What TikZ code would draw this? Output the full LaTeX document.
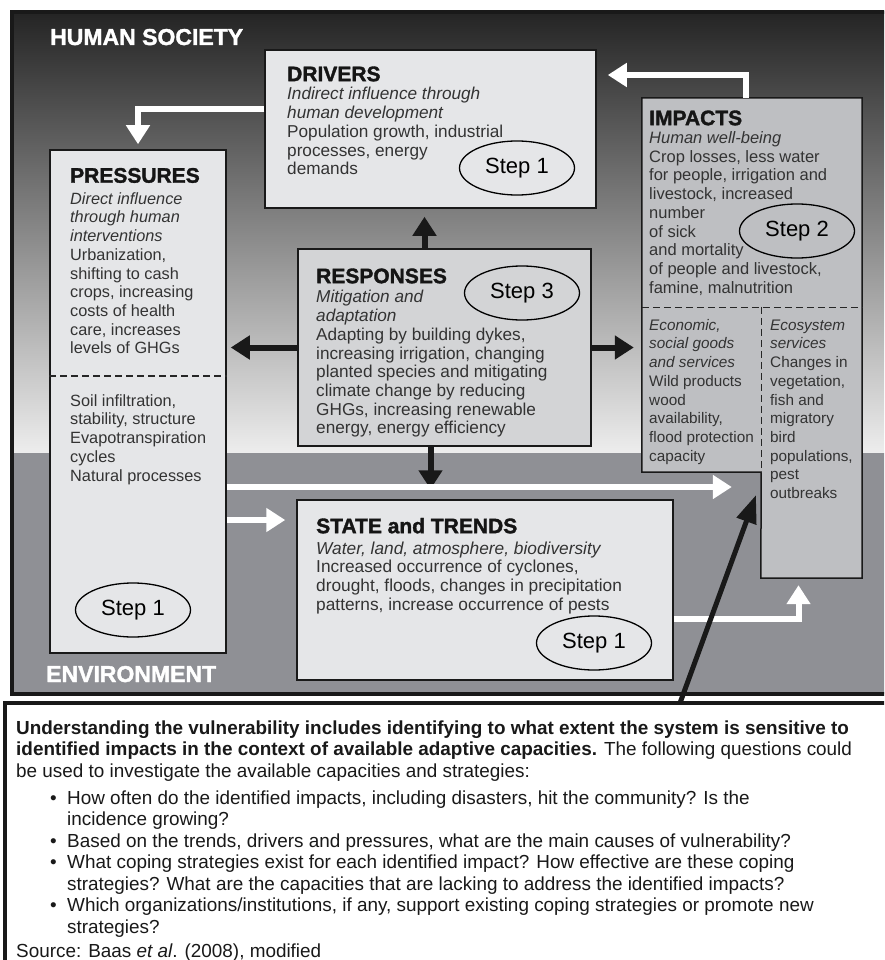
\documentclass[tikz,border=0pt]{standalone}
\usepackage{fontspec}
\setmainfont{Liberation Sans}
\newfontfamily\heavyfont{Liberation Sans}[BoldFeatures={FakeBold=1.6}]
\usetikzlibrary{arrows.meta,positioning,calc,shapes.geometric}
\definecolor{boxlight}{HTML}{E5E6E8}
\definecolor{boxmid}{HTML}{D3D4D6}
\definecolor{boxdark}{HTML}{BEBFC2}
\definecolor{envgray}{HTML}{8F9095}
\definecolor{skytop}{HTML}{242424}
\definecolor{skybottom}{HTML}{EDEDED}
\definecolor{bodytext}{HTML}{333333}
\definecolor{titletext}{HTML}{151515}
\newcommand{\boxtitle}[1]{{\fontsize{21}{18.7}\selectfont\heavyfont\bfseries\color{titletext}#1}}
\newcommand{\notebullet}{\makebox[51pt][r]{\textbullet\hspace{10.5pt}}}
\newcommand{\noteindent}{\hspace*{51pt}}

\begin{document}
\begin{tikzpicture}[x=1pt,y=-1pt,
  box/.style={draw=black!90,line width=1.5pt,inner sep=0pt},
  txt/.style={anchor=north west,align=left,inner sep=0pt,text=bodytext,font=\fontsize{17.2}{18.7}\selectfont},
  subtxt/.style={txt,font=\fontsize{15.3}{18.7}\selectfont},
  stepnode/.style={draw=black,line width=1.3pt,ellipse,minimum width=115pt,minimum height=54pt,inner sep=0pt,font=\fontsize{22}{22}\selectfont},
  regionlabel/.style={anchor=base west,inner sep=0pt,text=white,font=\fontsize{23}{23}\selectfont\heavyfont\bfseries},
  warrow/.style={draw=white,line width=6pt,-{Triangle[length=19pt,width=23pt]}},
  barrow/.style={draw=black!90,line width=6pt,-{Triangle[length=19pt,width=23pt]}},
  divider/.style={draw=black!85,line width=1.3pt,dash pattern=on 7pt off 4pt}]

\useasboundingbox (0,0) rectangle (884,960);
\clip (0,0) rectangle (884,960);

\shade[top color=skytop,bottom color=skybottom] (12,12) rectangle (910,453);
\fill[envgray] (12,453) rectangle (910,694);
\draw[line width=4pt,black!90] (12,12) rectangle (910,694);

\node[regionlabel] (society) at (50,45) {HUMAN SOCIETY};
\node[regionlabel] (environment) at (46,682) {ENVIRONMENT};

\node[box,fill=boxlight,minimum width=331pt,minimum height=158pt] (drivers) at (430.5,129) {};
\node[box,fill=boxlight,minimum width=176pt,minimum height=503pt] (pres) at (138,401.5) {};
\node[box,fill=boxmid,minimum width=293pt,minimum height=197pt] (resp) at (444.5,347.5) {};
\node[box,fill=boxlight,minimum width=376pt,minimum height=180pt] (state) at (485,590) {};

\node[fill=boxdark,inner sep=0pt,minimum width=220pt,minimum height=209pt] (imp) at (752,202.5) {};
\node[fill=boxdark,inner sep=0pt,minimum width=119pt,minimum height=165pt] (econ) at (701.5,389.5) {};
\node[fill=boxdark,inner sep=0pt,minimum width=101pt,minimum height=271pt] (eco) at (811.5,442.5) {};
\draw[black!90,line width=1.5pt] (imp.north west) -- (imp.north east) -- (eco.south east) -- (eco.south west) -- (econ.south east) -- (econ.south west) -- cycle;
\draw[divider] (imp.south west) -- (imp.south east);
\draw[divider] (econ.north east) -- (econ.south east);
\draw[divider] ($(pres.west)+(0,-25.5)$) -- ($(pres.east)+(0,-25.5)$);

\node[txt] (drvtxt) at (287,65) {\rule{0pt}{16pt}\boxtitle{DRIVERS}\\
  \textit{Indirect influence through}\\
  \textit{human development}\\
  Population growth, industrial\\
  processes, energy\\
  demands};
\node[txt,font=\fontsize{16.3}{18.7}\selectfont] (prstxt) at (70,166.5) {\rule{0pt}{16pt}\boxtitle{PRESSURES}\\[2.8pt]
  \textit{Direct influence}\\
  \textit{through human}\\
  \textit{interventions}\\
  Urbanization,\\
  shifting to cash\\
  crops, increasing\\
  costs of health\\
  care, increases\\
  levels of GHGs};
\node[txt,font=\fontsize{16.3}{18.7}\selectfont] (envtxt) at (70,392) {\rule{0pt}{14pt}Soil infiltration,\\
  stability, structure\\
  Evapotranspiration\\
  cycles\\
  Natural processes};
\node[txt] (resptxt) at (316,267) {\rule{0pt}{16pt}\boxtitle{RESPONSES}\\[1pt]
  \textit{Mitigation and}\\
  \textit{adaptation}\\
  Adapting by building dykes,\\
  increasing irrigation, changing\\
  planted species and mitigating\\
  climate change by reducing\\
  GHGs, increasing renewable\\
  energy, energy efficiency};
\node[txt,font=\fontsize{17.3}{18.7}\selectfont] (statetxt) at (316,517) {\rule{0pt}{16pt}\boxtitle{STATE and TRENDS}\\[2.3pt]
  \textit{Water, land, atmosphere, biodiversity}\\
  Increased occurrence of cyclones,\\
  drought, floods, changes in precipitation\\
  patterns, increase occurrence of pests};
\node[txt,font=\fontsize{16.5}{18.7}\selectfont] (imptxt) at (649,109) {\rule{0pt}{16pt}\boxtitle{IMPACTS}\\[-0.4pt]
  \textit{Human well-being}\\
  Crop losses, less water\\
  for people, irrigation and\\
  livestock, increased\\
  number\\
  of sick\\
  and mortality\\
  of people and livestock,\\
  famine, malnutrition};
\node[subtxt] (econtxt) at (649,316) {\rule{0pt}{14pt}\textit{Economic,}\\
  \textit{social goods}\\
  \textit{and services}\\
  Wild products\\
  wood\\
  availability,\\
  flood protection\\
  capacity};
\node[subtxt] (ecotxt) at (770,316) {\rule{0pt}{14pt}\textit{Ecosystem}\\
  \textit{services}\\
  Changes in\\
  vegetation,\\
  fish and\\
  migratory\\
  bird\\
  populations,\\
  pest\\
  outbreaks};

\node[stepnode] (drvstep) at (517,168) {Step 1};
\node[stepnode] (respstep) at (522,293) {Step 3};
\node[stepnode] (impstep) at (797,231) {Step 2};
\node[stepnode] (prsstep) at (133,610) {Step 1};
\node[stepnode] (statestep) at (594,643) {Step 1};

\draw[warrow] ($(drivers.west)+(0,-20)$) -| ($(pres.north)+(0,-5)$);
\draw[warrow] ($(imp.north)+(-6,0)$) |- ($(drivers.east)+(11,-54)$);
\draw[barrow] ($(resp.north)+(-20,0)$) -- ($(resp.north |- drivers.south)+(-20,8)$);
\draw[barrow] (resp.west) -- ($(pres.east |- resp.west)+(4,0)$);
\draw[barrow] (resp.east) -- ($(econ.west |- resp.east)+(-8,0)$);
\draw[barrow] ($(resp.south)+(-14,0)$) -- ($(resp.south |- state.north)+(-14,-10)$);
\draw[warrow] ($(pres.east)+(0,85.5)$) -- ($(eco.west)+(-29,44.5)$);
\draw[warrow] ($(pres.east)+(0,118.5)$) -- ($(state.west)+(-11,-70)$);
\draw[warrow] ($(state.east)+(0,29)$) -| ($(eco.south)+(-13,7)$);

\node[draw=black!90,line width=4pt,fill=white,inner sep=0pt,minimum width=905pt,minimum height=287pt] (note) at (457.5,846.5) {};
\node[txt,text=black!90,font=\fontsize{18.9}{21.5}\selectfont] (notetxt) at (16,720) {\rule{0pt}{14pt}\textbf{Understanding the vulnerability includes identifying to what extent the system is sensitive to}\\
  \textbf{identified impacts in the context of available adaptive capacities.} The following questions could\\
  be used to investigate the available capacities and strategies:\\[5.5pt]
  \notebullet How often do the identified impacts, including disasters, hit the community? Is the\\
  \noteindent incidence growing?\\
  \notebullet Based on the trends, drivers and pressures, what are the main causes of vulnerability?\\
  \notebullet What coping strategies exist for each identified impact? How effective are these coping\\
  \noteindent strategies? What are the capacities that are lacking to address the identified impacts?\\
  \notebullet Which organizations/institutions, if any, support existing coping strategies or promote new\\
  \noteindent strategies?\\[2.5pt]
  Source: Baas \textit{et al}. (2008), modified};

\coordinate (vuln) at (756,495);
\draw[draw=black!90,line width=5pt,-{Triangle[length=28pt,width=20pt]}] ($(note.north)+(222.5,2)$) -- (vuln);

\end{tikzpicture}
\end{document}
